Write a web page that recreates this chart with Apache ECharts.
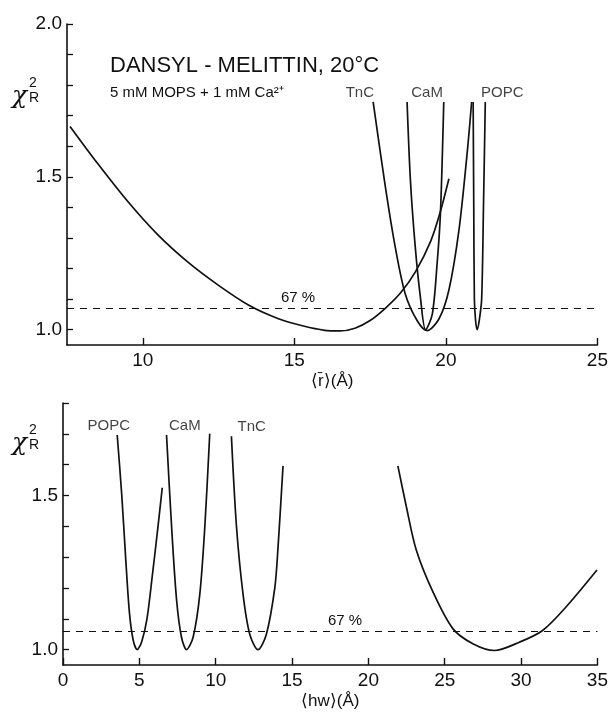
<!DOCTYPE html>
<html>
<head>
<meta charset="utf-8">
<script src="https://cdn.jsdelivr.net/npm/echarts@6/dist/echarts.min.js"></script>
<style>
  html, body { margin: 0; padding: 0; background: #fff; }
  #chart { width: 611px; height: 712px; }
</style>
</head>
<body>
<div id="chart"></div>
<script>
// top panel: chi-square vs mean distance <r>
const rBroad = [[7.6,1.665],[8.5,1.545],[9.5,1.42],[10.5,1.31],[11.5,1.22],[12.5,1.145],[13.5,1.08],[14.5,1.035],[15.3,1.012],[16.0,0.998],[16.5,0.996],[17.0,1.005],[17.5,1.03],[18.0,1.07],[18.5,1.12],[19.0,1.19],[19.5,1.29],[19.8,1.38],[20.1,1.494]];
const rTnC = [[17.6,1.745],[18.0,1.47],[18.33,1.27],[18.66,1.117],[19.05,1.03],[19.38,0.997],[19.77,1.035],[20.1,1.13],[20.43,1.325],[20.7,1.576],[20.85,1.745]];
const rCaM = [[18.72,1.745],[18.83,1.489],[18.99,1.27],[19.16,1.106],[19.33,1.0],[19.55,1.05],[19.71,1.215],[19.82,1.38],[19.93,1.745]];
const rPOPC = [[20.9,1.745],[20.92,1.4],[20.94,1.1],[20.98,1.03],[21.03,1.0],[21.1,1.03],[21.18,1.1],[21.24,1.4],[21.3,1.745]];

// bottom panel: chi-square vs half width hw
const hwPOPC = [[3.55,1.696],[3.85,1.50],[4.1,1.30],[4.35,1.12],[4.6,1.03],[4.86,1.0],[5.15,1.025],[5.5,1.10],[5.85,1.24],[6.2,1.39],[6.5,1.525]];
const hwCaM = [[6.78,1.696],[7.11,1.40],[7.44,1.16],[7.76,1.04],[8.09,1.0],[8.52,1.04],[8.96,1.18],[9.29,1.40],[9.61,1.70]];
const hwTnC = [[11.03,1.692],[11.36,1.40],[11.79,1.18],[12.23,1.05],[12.77,1.0],[13.32,1.05],[13.87,1.2],[14.08,1.33],[14.41,1.596]];
const hwBroad = [[21.93,1.596],[22.48,1.465],[23.13,1.324],[24.22,1.188],[25.53,1.068],[26.84,1.019],[28.25,0.997],[29.89,1.024],[31.41,1.062],[32.94,1.138],[34.97,1.258]];

const level67Top = 1.073;
const level67Bottom = 1.065;

const topXTicks = [10, 15, 20, 25];
const bottomXTicks = [0, 5, 10, 15, 20, 25, 30, 35];
const topYTicks = [1.0, 1.1, 1.2, 1.3, 1.4, 1.5, 1.6, 1.7, 1.8, 1.9, 2.0];
const topYLabels = [1.0, 1.5, 2.0];
const bottomYTicks = [1.0, 1.1, 1.2, 1.3, 1.4, 1.5, 1.6, 1.7, 1.8];
const bottomYLabels = [1.0, 1.5];

const topCurveLabels = [
  { name: 'TnC', value: [17.16, 1.774] },
  { name: 'CaM', value: [19.38, 1.774] },
  { name: 'POPC', value: [21.86, 1.774] }
];
const bottomCurveLabels = [
  { name: 'POPC', value: [3.0, 1.725] },
  { name: 'CaM', value: [7.98, 1.725] },
  { name: 'TnC', value: [12.36, 1.722] }
];

const FONT = 'Liberation Sans';
const INK = '#111';

const chart = echarts.init(document.getElementById('chart'));

function xAxisCfg(idx, min, max, ticks, name) {
  return {
    type: 'value', gridIndex: idx, min, max,
    name, nameLocation: 'middle', nameGap: 28,
    nameTextStyle: { fontFamily: FONT, fontSize: 17, color: INK, verticalAlign: 'top' },
    axisLine: { lineStyle: { color: INK, width: 1.6 } },
    axisTick: { inside: true, length: 7, customValues: ticks, lineStyle: { color: INK, width: 1.4 } },
    axisLabel: { customValues: ticks, fontFamily: FONT, fontSize: 19, color: INK, margin: 6 },
    splitLine: { show: false }
  };
}

function yAxisCfg(idx, min, max, ticks, labels) {
  return {
    type: 'value', gridIndex: idx, min, max,
    axisLine: { show: true, lineStyle: { color: INK, width: 1.6 } },
    axisTick: { show: true, inside: true, length: 6, customValues: ticks, lineStyle: { color: INK, width: 1.3 } },
    axisLabel: {
      customValues: labels, fontFamily: FONT, fontSize: 19, color: INK, margin: 5,
      formatter: v => v.toFixed(1)
    },
    splitLine: { show: false }
  };
}

function curve(data, xi, yi) {
  return {
    type: 'line', xAxisIndex: xi, yAxisIndex: yi, data,
    smooth: 0.3, symbol: 'none', silent: true,
    lineStyle: { color: INK, width: 1.7 }
  };
}

function level(value, xi, yi, dist) {
  return {
    type: 'line', xAxisIndex: xi, yAxisIndex: yi, data: [], silent: true,
    markLine: {
      symbol: 'none', silent: true,
      lineStyle: { color: INK, type: [7, 6], width: 1.2 },
      label: { formatter: '67 %', position: 'insideStartTop', distance: dist,
        fontFamily: FONT, fontSize: 15, color: INK },
      data: [{ yAxis: value }]
    }
  };
}

function labels(data, xi, yi) {
  return {
    type: 'scatter', xAxisIndex: xi, yAxisIndex: yi, data, symbolSize: 0, silent: true,
    label: { show: true, position: 'inside', formatter: p => p.name,
      fontFamily: FONT, fontSize: 15, color: INK }
  };
}

function chiLabel(left, top) {
  return {
    type: 'group', left, top,
    children: [
      { type: 'text', x: 0, y: 8, style: { text: 'χ', font: 'italic 25px DejaVu Serif', fill: INK } },
      { type: 'text', x: 17, y: 0, style: { text: '2', font: '14px ' + FONT, fill: INK } },
      { type: 'text', x: 17, y: 15, style: { text: 'R', font: '14px ' + FONT, fill: INK } }
    ]
  };
}

chart.setOption({
  animation: false,
  backgroundColor: '#fff',
  grid: [
    { left: 67, top: 24, width: 532, height: 321 },
    { left: 63, top: 403, width: 535, height: 262 }
  ],
  xAxis: [
    xAxisCfg(0, 7.5, 25, topXTicks, '⟨r̄⟩(Å)'),
    xAxisCfg(1, 0, 35, bottomXTicks, '⟨hw⟩(Å)')
  ],
  yAxis: [
    yAxisCfg(0, 0.95, 2.0, topYTicks, topYLabels),
    yAxisCfg(1, 0.95, 1.8, bottomYTicks, bottomYLabels)
  ],
  graphic: [
    { type: 'text', left: 110, top: 55, style: { text: 'DANSYL - MELITTIN, 20°C', font: '22px ' + FONT, fill: INK } },
    { type: 'text', left: 110, top: 85, style: { text: '5 mM MOPS + 1 mM Ca²⁺', font: '15px ' + FONT, fill: INK } },
    chiLabel(12, 76),
    chiLabel(12, 423)
  ],
  series: [
    curve(rBroad, 0, 0),
    curve(rTnC, 0, 0),
    curve(rCaM, 0, 0),
    curve(rPOPC, 0, 0),
    level(level67Top, 0, 0, [214, 3]),
    labels(topCurveLabels, 0, 0),
    curve(hwPOPC, 1, 1),
    curve(hwCaM, 1, 1),
    curve(hwTnC, 1, 1),
    curve(hwBroad, 1, 1),
    level(level67Bottom, 1, 1, [265, 3]),
    labels(bottomCurveLabels, 1, 1)
  ]
});
</script>
</body>
</html>
